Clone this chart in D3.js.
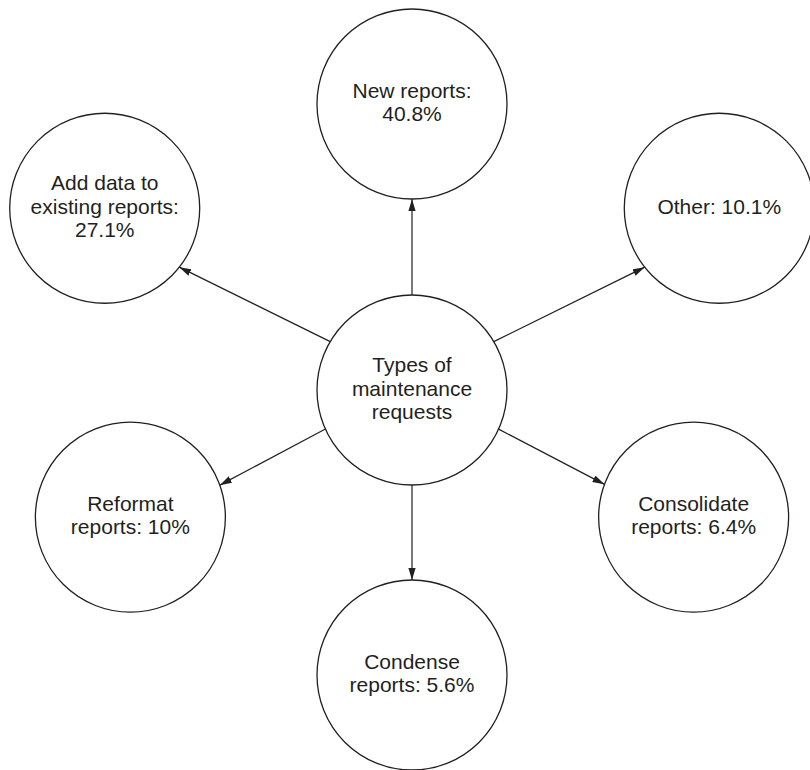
<!DOCTYPE html>
<html>
<head>
<meta charset="utf-8">
<script src="https://cdn.jsdelivr.net/npm/d3@7"></script>
<style>
  body { margin: 0; background: #fff; }
  svg { display: block; }
  text { font-family: "Liberation Sans", Arial, sans-serif; }
</style>
</head>
<body>
<div id="chart"></div>
<script>
// hub label and the six request types with their share (%)
const hubLines = ['Types of', 'maintenance', 'requests'];
const categories = [
  'New reports',
  'Add data to existing reports',
  'Other',
  'Reformat reports',
  'Consolidate reports',
  'Condense reports'
];
const shares = [40.8, 27.1, 10.1, 10, 6.4, 5.6];
// how each label breaks into lines inside its circle
const labelLines = [
  ['New reports:', '40.8%'],
  ['Add data to', 'existing reports:', '27.1%'],
  ['Other: 10.1%'],
  ['Reformat', 'reports: 10%'],
  ['Consolidate', 'reports: 6.4%'],
  ['Condense', 'reports: 5.6%']
];

const width = 810;
const height = 770;
const hub = { x: 412, y: 390 };
const r = 95;
const lineH = 23.5;
const ink = '#231f20';

// radial layout around the hub (degrees clockwise from 12 o'clock)
const layout = [
  { angle: 0, dist: 286, tip: 180 },
  { angle: -59.4, dist: 357, tip: 128.3 },
  { angle: 59.4, dist: 357, tip: -128.3 },
  { angle: -114.3, dist: 309, tip: 70.3 },
  { angle: 114.3, dist: 309, tip: -69.8 },
  { angle: 180, dist: 285, tip: 0 }
];

const rad = d => d * Math.PI / 180;

const nodes = categories.map((c, i) => {
  const [dx, dy] = d3.pointRadial(rad(layout[i].angle), layout[i].dist);
  const [sx, sy] = d3.pointRadial(rad(layout[i].angle), r);
  const [tx, ty] = d3.pointRadial(rad(layout[i].tip), r);
  return {
    name: c,
    value: shares[i],
    lines: labelLines[i],
    x: hub.x + dx,
    y: hub.y + dy,
    x1: hub.x + sx,
    y1: hub.y + sy,
    x2: hub.x + dx + tx,
    y2: hub.y + dy + ty
  };
});

const svg = d3.select('#chart').append('svg')
  .attr('width', width)
  .attr('height', height)
  .attr('viewBox', [0, 0, width, height]);

svg.append('defs').append('marker')
  .attr('id', 'arrow')
  .attr('markerUnits', 'userSpaceOnUse')
  .attr('viewBox', '0 -4 12 8')
  .attr('refX', 12)
  .attr('refY', 0)
  .attr('markerWidth', 12)
  .attr('markerHeight', 8)
  .attr('orient', 'auto')
  .append('path')
  .attr('d', 'M0,-3.6L12,0L0,3.6Z')
  .attr('fill', ink);

// links
svg.append('g')
  .selectAll('line')
  .data(nodes)
  .join('line')
  .attr('x1', d => d.x1)
  .attr('y1', d => d.y1)
  .attr('x2', d => d.x2)
  .attr('y2', d => d.y2)
  .attr('stroke', ink)
  .attr('stroke-width', 1.2)
  .attr('marker-end', 'url(#arrow)');

const all = [{ x: hub.x, y: hub.y, lines: hubLines }].concat(nodes);

const g = svg.append('g')
  .selectAll('g')
  .data(all)
  .join('g')
  .attr('transform', d => `translate(${d.x},${d.y})`);

g.append('circle')
  .attr('r', r)
  .attr('fill', 'none')
  .attr('stroke', ink)
  .attr('stroke-width', 1.3);

g.append('text')
  .attr('text-anchor', 'middle')
  .attr('font-size', 21)
  .attr('fill', ink)
  .selectAll('tspan')
  .data(d => d.lines.map((t, i) => ({ t, i, n: d.lines.length })))
  .join('tspan')
  .attr('x', 0)
  .attr('y', d => -(d.n - 1) * lineH / 2 + 5.5 + d.i * lineH)
  .text(d => d.t);
</script>
</body>
</html>
